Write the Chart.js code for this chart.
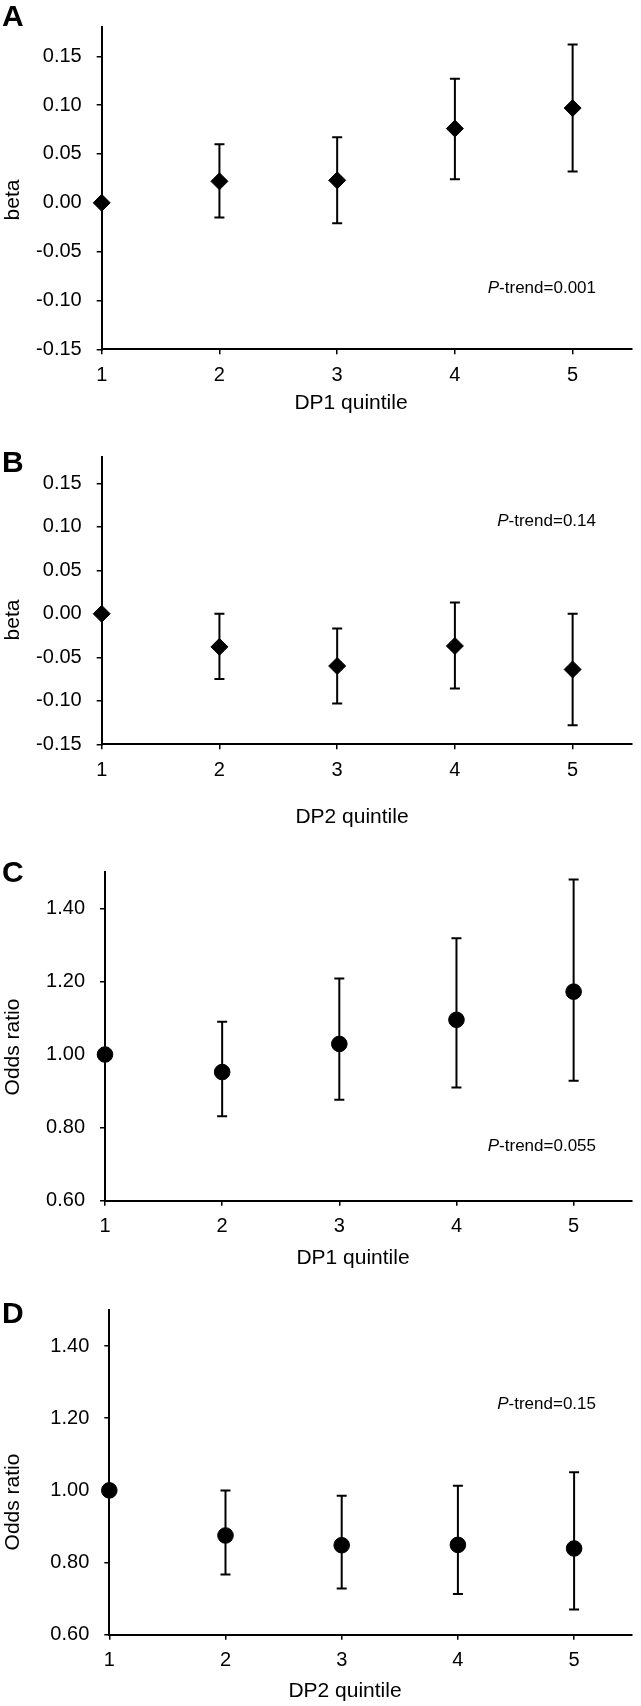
<!DOCTYPE html>
<html>
<head>
<meta charset="utf-8">
<script src="https://cdn.jsdelivr.net/npm/chart.js@4/dist/chart.umd.min.js"></script>
<style>
  body { margin: 0; background: #fff; }
  #page { position: relative; width: 641px; height: 1706px; }
  #page canvas { position: absolute; left: 0; }
</style>
</head>
<body>
<div id="page"></div>
<script>
const quintiles = [1, 2, 3, 4, 5];

// A: beta by DP1 quintile
const betaDP1 = [0, 0.022, 0.023, 0.076, 0.097];
const betaDP1Low = [null, -0.015, -0.021, 0.024, 0.032];
const betaDP1High = [null, 0.060, 0.067, 0.127, 0.162];

// B: beta by DP2 quintile
const betaDP2 = [0, -0.038, -0.060, -0.037, -0.064];
const betaDP2Low = [null, -0.075, -0.103, -0.086, -0.128];
const betaDP2High = [null, 0.000, -0.017, 0.013, 0.000];

// C: odds ratio by DP1 quintile
const orDP1 = [1.00, 0.952, 1.029, 1.095, 1.172];
const orDP1Low = [null, 0.831, 0.876, 0.910, 0.928];
const orDP1High = [null, 1.090, 1.208, 1.318, 1.479];

// D: odds ratio by DP2 quintile
const orDP2 = [1.00, 0.875, 0.848, 0.849, 0.839];
const orDP2Low = [null, 0.767, 0.728, 0.713, 0.670];
const orDP2High = [null, 1.000, 0.985, 1.013, 1.050];

const betaTicks = [-0.15, -0.10, -0.05, 0.00, 0.05, 0.10, 0.15];
const oddsTicks = [0.60, 0.80, 1.00, 1.20, 1.40];

const FONT = '"Liberation Sans", Arial, Helvetica, sans-serif';

// draws the CI whiskers from the plugin options through the chart scales
const errorBars = {
  id: 'errorBars',
  beforeDatasetsDraw(chart, args, opts) {
    const {ctx, scales: {x, y}} = chart;
    ctx.save();
    ctx.strokeStyle = '#000';
    ctx.lineWidth = 2;
    quintiles.forEach((q, i) => {
      if (opts.low[i] == null) return;
      const px = x.getPixelForValue(q);
      const yl = y.getPixelForValue(opts.low[i]);
      const yh = y.getPixelForValue(opts.high[i]);
      ctx.beginPath();
      ctx.moveTo(px, yl); ctx.lineTo(px, yh);
      ctx.moveTo(px - 5, yl); ctx.lineTo(px + 5, yl);
      ctx.moveTo(px - 5, yh); ctx.lineTo(px + 5, yh);
      ctx.stroke();
    });
    ctx.restore();
  }
};

// panel letter, axis titles and the P-trend note
const panelText = {
  id: 'panelText',
  afterDraw(chart, args, o) {
    const ctx = chart.ctx;
    ctx.save();
    ctx.fillStyle = '#000';
    ctx.textBaseline = 'alphabetic';

    ctx.font = `bold 30px ${FONT}`;
    ctx.textAlign = 'left';
    ctx.fillText(o.letter, 2, o.letterBase);

    ctx.font = `21px ${FONT}`;
    ctx.textAlign = 'center';
    ctx.fillText(o.xTitle, o.xTitleX, o.xTitleBase);

    ctx.save();
    ctx.translate(13, o.yTitleY);
    ctx.rotate(-Math.PI / 2);
    ctx.textBaseline = 'middle';
    ctx.fillText(o.yTitle, 0, 0);
    ctx.restore();

    const rest = '-trend=' + o.pTrend;
    ctx.font = `17px ${FONT}`;
    const wRest = ctx.measureText(rest).width;
    ctx.font = `italic 17px ${FONT}`;
    const wP = ctx.measureText('P').width;
    const x0 = 596 - wRest - wP;
    ctx.textAlign = 'left';
    ctx.fillText('P', x0, o.pBase);
    ctx.font = `17px ${FONT}`;
    ctx.fillText(rest, x0 + wP, o.pBase);
    ctx.restore();
  }
};

const panels = [
  {letter: 'A', values: betaDP1, low: betaDP1Low, high: betaDP1High, ticks: betaTicks, yMin: -0.15, yMax: 0.18,
   marker: 'rectRot', radius: 8.5, xTitle: 'DP1 quintile', yTitle: 'beta', pTrend: '0.001',
   top: 0, height: 420, areaTop: 20, areaBottom: 349.3, left: 101.7,
   letterBase: 26, xTitleX: 351, xTitleBase: 409, yTitleY: 200, pBase: 293},
  {letter: 'B', values: betaDP2, low: betaDP2Low, high: betaDP2High, ticks: betaTicks, yMin: -0.15, yMax: 0.18,
   marker: 'rectRot', radius: 8.5, xTitle: 'DP2 quintile', yTitle: 'beta', pTrend: '0.14',
   top: 420, height: 410, areaTop: 457.2, areaBottom: 744.3, left: 101.7,
   letterBase: 472, xTitleX: 352, xTitleBase: 823, yTitleY: 620, pBase: 526},
  {letter: 'C', values: orDP1, low: orDP1Low, high: orDP1High, ticks: oddsTicks, yMin: 0.6, yMax: 1.5,
   marker: 'circle', radius: 7.8, xTitle: 'DP1 quintile', yTitle: 'Odds ratio', pTrend: '0.055',
   top: 840, height: 430, areaTop: 871.8, areaBottom: 1200.7, left: 105,
   letterBase: 882, xTitleX: 353, xTitleBase: 1264, yTitleY: 1047, pBase: 1151},
  {letter: 'D', values: orDP2, low: orDP2Low, high: orDP2High, ticks: oddsTicks, yMin: 0.6, yMax: 1.5,
   marker: 'circle', radius: 7.8, xTitle: 'DP2 quintile', yTitle: 'Odds ratio', pTrend: '0.15',
   top: 1276, height: 430, areaTop: 1310, areaBottom: 1634.7, left: 109.3,
   letterBase: 1323, xTitleX: 345, xTitleBase: 1697, yTitleY: 1502, pBase: 1409}
];

function axisStyle() {
  return {
    border: {display: true, color: '#000', width: 2},
    grid: {display: true, drawOnChartArea: false, drawTicks: true, tickLength: 5, color: '#000', lineWidth: 1.5},
  };
}

function makePanel(p) {
  const canvas = document.createElement('canvas');
  canvas.width = 641;
  canvas.height = p.height;
  canvas.style.top = p.top + 'px';
  document.getElementById('page').appendChild(canvas);

  const local = v => v - p.top;
  new Chart(canvas, {
    type: 'scatter',
    data: {
      datasets: [{
        data: quintiles.map((q, i) => ({x: q, y: p.values[i]})),
        pointStyle: p.marker,
        pointRadius: p.radius,
        pointHoverRadius: p.radius,
        backgroundColor: '#000',
        borderColor: '#000',
        borderWidth: 1,
        clip: false
      }]
    },
    options: {
      responsive: false,
      animation: false,
      devicePixelRatio: 1,
      events: [],
      layout: {padding: {top: local(p.areaTop), right: 4, left: 0, bottom: 0}},
      plugins: {
        legend: {display: false},
        tooltip: {enabled: false},
        errorBars: {low: p.low, high: p.high},
        panelText: {
          letter: p.letter, letterBase: local(p.letterBase),
          xTitle: p.xTitle, xTitleX: p.xTitleX, xTitleBase: local(p.xTitleBase),
          yTitle: p.yTitle, yTitleY: local(p.yTitleY),
          pTrend: p.pTrend, pBase: local(p.pBase)
        }
      },
      scales: {
        x: {
          type: 'linear', min: 1, max: 5.5,
          ...axisStyle(),
          afterBuildTicks: s => { s.ticks = quintiles.map(v => ({value: v})); },
          afterFit: s => { s.height = p.top + p.height - p.areaBottom; },
          ticks: {color: '#000', padding: 9, font: {family: FONT, size: 20}, callback: v => String(v)}
        },
        y: {
          type: 'linear', min: p.yMin, max: p.yMax,
          ...axisStyle(),
          afterBuildTicks: s => { s.ticks = p.ticks.map(v => ({value: v})); },
          afterFit: s => { s.width = p.left; },
          ticks: {color: '#000', padding: 15, font: {family: FONT, size: 20}, callback: v => v.toFixed(2)}
        }
      }
    },
    plugins: [errorBars, panelText]
  });
}

panels.forEach(makePanel);
</script>
</body>
</html>
